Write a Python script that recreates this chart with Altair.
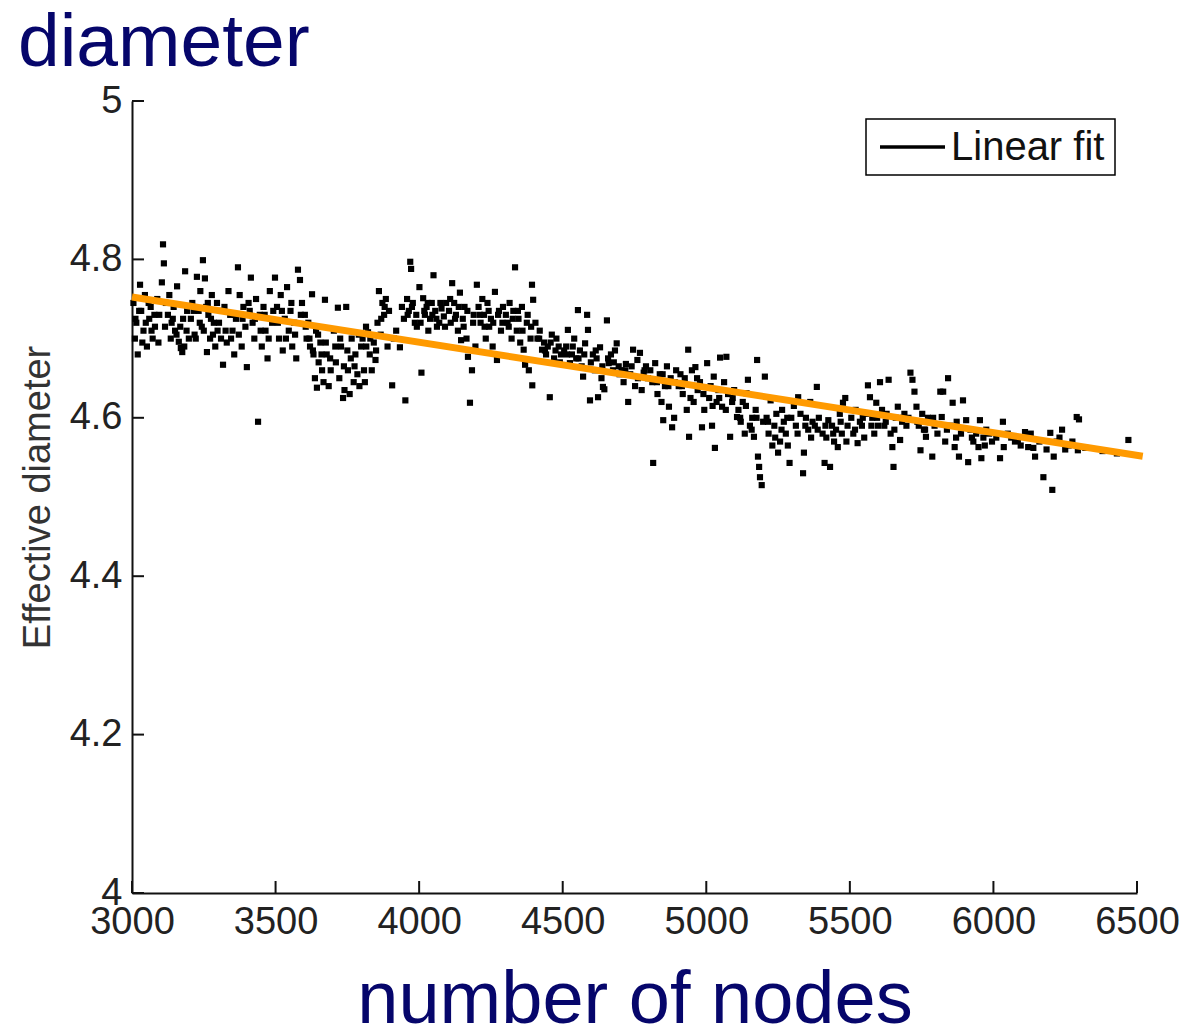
import altair as alt
import pandas as pd

# ---- data ----
nodes = [
    3005, 3010, 3015, 3020, 3028, 3032, 3040, 3045, 3052, 3060, 3065, 3072, 3080, 3088, 3095,
    3104, 3108, 3111, 3118, 3125, 3130, 3138, 3145, 3150, 3157, 3163, 3170, 3175, 3182, 3185, 3192, 3198,
    3205, 3210, 3218, 3226, 3232, 3238, 3243, 3247, 3254, 3258, 3261, 3266, 3272, 3278, 3285, 3290, 3296,
    3303, 3310, 3317, 3322, 3330, 3336, 3342, 3350, 3356, 3362, 3369, 3375, 3382, 3388, 3395,
    3400, 3406, 3414, 3420, 3426, 3432, 3439, 3445, 3452, 3458, 3465, 3472, 3480, 3488, 3498,
    3505, 3512, 3518, 3525, 3532, 3540, 3546, 3552, 3558, 3565, 3572, 3578, 3585, 3592,
    3602, 3608, 3614, 3620, 3627, 3632, 3637, 3641, 3644, 3650, 3656, 3662, 3667, 3672, 3678, 3685, 3692,
    3703, 3710, 3717, 3722, 3728, 3735, 3740, 3746, 3752, 3758, 3765, 3772, 3778, 3785, 3792, 3798,
    3803, 3808, 3811, 3816, 3822, 3828, 3835, 3842, 3848, 3855, 3860, 3866, 3872, 3878, 3884, 3890, 3895,
    3906, 3912, 3920, 3933, 3940, 3947, 3952, 3958, 3964, 3969, 3972, 3978, 3985, 3992,
    4001, 4008, 4014, 4020, 4026, 4032, 4038, 4044, 4050, 4056, 4062, 4070, 4078, 4086, 4094,
    4104, 4110, 4115, 4122, 4128, 4135, 4142, 4146, 4152, 4158, 4165, 4170, 4177, 4184, 4190, 4196, 4201,
    4207, 4214, 4220, 4226, 4232, 4238, 4244, 4250, 4256, 4264, 4271, 4278, 4285, 4292,
    4302, 4308, 4315, 4322, 4328, 4334, 4340, 4346, 4352, 4358, 4364, 4369, 4375, 4382, 4388, 4393, 4397, 4394,
    4405, 4412, 4420, 4428, 4435, 4442, 4448, 4455, 4462, 4470, 4478, 4486, 4494,
    4505, 4512, 4518, 4525, 4532, 4540, 4547, 4553, 4560, 4566, 4571, 4578, 4585, 4588, 4595,
    4605, 4612, 4618, 4623, 4630, 4635, 4640, 4645, 4654, 4660, 4668, 4675, 4682, 4688, 4695,
    4705, 4712, 4720, 4728, 4735, 4745, 4752, 4760, 4769, 4775, 4782, 4790, 4797,
    4805, 4812, 4815, 4822, 4830, 4838, 4844, 4850, 4856, 4863, 4870, 4876, 4881, 4888, 4895,
    4904, 4910, 4918, 4925, 4932, 4937, 4940, 4950, 4956, 4962, 4970, 4978, 4985, 4993, 5003,
    5010, 5015, 5020, 5026, 5030, 5036, 5042, 5048, 5055, 5062, 5070, 5076, 5083, 5090, 5097, 5107,
    5112, 5120, 5127, 5134, 5140, 5145, 5152, 5160, 5166, 5172, 5177, 5180, 5184, 5187, 5193, 5198,
    5204, 5210, 5217, 5224, 5230, 5237, 5244, 5250, 5257, 5264, 5270, 5277, 5284, 5290, 5296,
    5305, 5312, 5320, 5328, 5337, 5340, 5347, 5355, 5362, 5370, 5378, 5385, 5392,
    5405, 5412, 5418, 5425, 5431, 5438, 5445, 5452, 5458, 5465, 5472, 5476, 5484, 5492,
    5505, 5512, 5520, 5527, 5535, 5542, 5550, 5556, 5563, 5570, 5578, 5585, 5592, 5598,
    5605, 5612, 5620, 5628, 5635, 5642, 5648, 5652, 5660, 5667, 5675, 5682, 5690, 5697,
    5704, 5711, 5718, 5725, 5732, 5740, 5746, 5752, 5758, 5765, 5772, 5780, 5787, 5795,
    5805, 5815, 5820, 5825, 5832, 5842, 5850, 5858, 5865, 5872, 5880, 5887, 5894,
    5905, 5912, 5920, 5930, 5940, 5948, 5953, 5958, 5965, 5975, 5985, 5995,
    6010, 6023, 6033, 6036, 6050, 6062, 6075, 6085, 6095,
    6110, 6121, 6130, 6139, 6145, 6160, 6174, 6185, 6198, 6205,
    6210, 6220, 6230, 6239, 6250, 6262, 6275, 6290, 6294, 6298,
    6320, 6380, 6430, 6470,
]
diam = [
    4.745, 4.70, 4.72, 4.68, 4.768, 4.735, 4.71, 4.755, 4.69, 4.725, 4.74, 4.70, 4.715, 4.75, 4.73,
    4.771, 4.819, 4.795, 4.745, 4.73, 4.755, 4.72, 4.74, 4.71, 4.766, 4.696, 4.688, 4.683, 4.69, 4.785, 4.735, 4.70,
    4.725, 4.745, 4.705, 4.778, 4.735, 4.76, 4.715, 4.799, 4.776, 4.74, 4.683, 4.73, 4.70, 4.755, 4.72, 4.69, 4.745,
    4.72, 4.70, 4.667, 4.74, 4.695, 4.76, 4.73, 4.71, 4.68, 4.725, 4.79, 4.755, 4.69, 4.74, 4.715,
    4.664, 4.745, 4.777, 4.72, 4.70, 4.75, 4.595, 4.73, 4.69, 4.74, 4.71, 4.675, 4.76, 4.72, 4.777,
    4.74, 4.70, 4.755, 4.685, 4.725, 4.765, 4.71, 4.735, 4.69, 4.72, 4.675, 4.787, 4.774, 4.745,
    4.73, 4.70, 4.72, 4.69, 4.756, 4.68, 4.650, 4.71, 4.638, 4.67, 4.695, 4.66, 4.645, 4.749, 4.68, 4.64, 4.66,
    4.71, 4.67, 4.739, 4.65, 4.69, 4.625, 4.635, 4.74, 4.66, 4.63, 4.70, 4.645, 4.68, 4.655, 4.64, 4.69,
    4.70, 4.66, 4.645, 4.69, 4.708, 4.68, 4.66, 4.695, 4.673, 4.72, 4.76, 4.705, 4.745, 4.73, 4.75, 4.69, 4.735,
    4.641, 4.70, 4.71, 4.689, 4.74, 4.725, 4.622, 4.75, 4.735, 4.797, 4.788, 4.745, 4.72, 4.715,
    4.765, 4.657, 4.751, 4.73, 4.74, 4.71, 4.725, 4.745, 4.78, 4.735, 4.715, 4.72, 4.738, 4.728, 4.745,
    4.735, 4.72, 4.770, 4.745, 4.73, 4.71, 4.758, 4.698, 4.725, 4.74, 4.70, 4.677, 4.619, 4.66, 4.73, 4.69, 4.768,
    4.74, 4.72, 4.75, 4.73, 4.70, 4.745, 4.715, 4.725, 4.69, 4.759, 4.673, 4.735, 4.71, 4.74,
    4.73, 4.72, 4.745, 4.70, 4.735, 4.79, 4.71, 4.725, 4.695, 4.74, 4.686, 4.667, 4.72, 4.66, 4.70, 4.768, 4.749, 4.641,
    4.72, 4.70, 4.71, 4.686, 4.695, 4.68, 4.69, 4.626, 4.705, 4.675, 4.70, 4.69, 4.68,
    4.685, 4.69, 4.711, 4.669, 4.68, 4.70, 4.675, 4.736, 4.685, 4.665, 4.652, 4.694, 4.73, 4.711, 4.622,
    4.68, 4.66, 4.675, 4.626, 4.689, 4.65, 4.639, 4.636, 4.723, 4.669, 4.68, 4.66, 4.685, 4.694, 4.665,
    4.66, 4.645, 4.668, 4.62, 4.655, 4.686, 4.64, 4.673, 4.682, 4.635, 4.657, 4.665, 4.65,
    4.66, 4.645, 4.543, 4.669, 4.63, 4.655, 4.62, 4.597, 4.64, 4.665, 4.614, 4.65, 4.588, 4.60, 4.66,
    4.64, 4.655, 4.63, 4.65, 4.61, 4.686, 4.576, 4.66, 4.62, 4.664, 4.635, 4.645, 4.588, 4.61, 4.669,
    4.625, 4.64, 4.59, 4.652, 4.562, 4.62, 4.635, 4.676, 4.614, 4.645, 4.677, 4.63, 4.576, 4.62, 4.635, 4.601,
    4.61, 4.595, 4.62, 4.58, 4.631, 4.648, 4.59, 4.60, 4.576, 4.61, 4.673, 4.551, 4.538, 4.525, 4.515, 4.595,
    4.652, 4.60, 4.58, 4.622, 4.565, 4.59, 4.605, 4.556, 4.57, 4.61, 4.595, 4.58, 4.565, 4.543, 4.60,
    4.615, 4.59, 4.626, 4.605, 4.53, 4.556, 4.60, 4.585, 4.62, 4.595, 4.59, 4.639, 4.60,
    4.58, 4.543, 4.575, 4.597, 4.538, 4.59, 4.57, 4.585, 4.563, 4.605, 4.58, 4.619, 4.625, 4.59,
    4.60, 4.58, 4.61, 4.568, 4.595, 4.59, 4.575, 4.605, 4.641, 4.626, 4.60, 4.58, 4.619, 4.59,
    4.645, 4.61, 4.59, 4.605, 4.648, 4.58, 4.563, 4.538, 4.60, 4.614, 4.572, 4.595, 4.605, 4.59,
    4.60, 4.657, 4.648, 4.633, 4.614, 4.59, 4.559, 4.605, 4.585, 4.576, 4.60, 4.595, 4.551, 4.59,
    4.58, 4.633, 4.601, 4.633, 4.57, 4.65, 4.59, 4.619, 4.563, 4.595, 4.551, 4.58, 4.622,
    4.597, 4.544, 4.585, 4.57, 4.58, 4.563, 4.597, 4.549, 4.575, 4.585, 4.58, 4.57,
    4.575, 4.549, 4.595, 4.563, 4.58, 4.575, 4.57, 4.572, 4.565,
    4.582, 4.563, 4.58, 4.562, 4.551, 4.57, 4.525, 4.56, 4.581, 4.509,
    4.551, 4.57, 4.575, 4.585, 4.56, 4.565, 4.57, 4.601, 4.559, 4.598,
    4.562, 4.558, 4.555, 4.572,
]

# extra points in the densest parts of the cloud
nodes_dense = [
    3012, 3025, 3036, 3048, 3058, 3068, 3078, 3092, 3115, 3135,
    3142, 3155, 3168, 3178, 3190, 3215, 3222, 3236, 3250, 3264,
    3275, 3282, 3298, 3315, 3326, 3345, 3358, 3372, 3385, 3410,
    3428, 3448, 3462, 3476, 3492, 3508, 3522, 3536, 3555, 3568,
    3588, 3605, 3618, 3630, 3648, 3660, 3675, 3690, 3708, 3725,
    3738, 3750, 3762, 3775, 3790, 3815, 3830, 3850, 3868, 3880,
    3960, 3975, 3990, 4005, 4018, 4030, 4046, 4060, 4074, 4090,
    4108, 4125, 4138, 4155, 4168, 4188, 4212, 4228, 4242, 4258,
    4275, 4290, 4312, 4326, 4344, 4360, 4378, 4390, 4418, 4438,
    4458, 4475, 4490, 4515, 4535, 4555, 4575, 4598, 4615, 4638,
    4658, 4678, 4698, 4718, 4740, 4762, 4785, 4828, 4848, 4868,
    4890, 4915, 4945, 4968, 4990, 5022, 5045, 5068, 5092, 5118,
    5138, 5158, 5175, 5215, 5240, 5262, 5282, 5318, 5345, 5365,
    5388, 5415, 5442, 5468, 5488, 5518, 5545, 5575, 5595, 5625,
    5655, 5685, 5735, 5762, 5790, 5838, 5870, 5925, 5970,
]
diam_dense = [
    4.725, 4.735, 4.695, 4.72, 4.745, 4.71, 4.73, 4.695, 4.715, 4.70,
    4.725, 4.705, 4.715, 4.725, 4.71, 4.735, 4.70, 4.72, 4.71, 4.745,
    4.725, 4.705, 4.71, 4.735, 4.71, 4.70, 4.73, 4.705, 4.725, 4.735,
    4.725, 4.71, 4.73, 4.70, 4.735, 4.72, 4.735, 4.70, 4.745, 4.705,
    4.73, 4.715, 4.70, 4.685, 4.705, 4.68, 4.695, 4.675, 4.69, 4.70,
    4.665, 4.685, 4.675, 4.665, 4.705, 4.715, 4.70, 4.685, 4.725, 4.74,
    4.73, 4.74, 4.73, 4.72, 4.735, 4.745, 4.73, 4.725, 4.745, 4.715,
    4.75, 4.725, 4.74, 4.715, 4.735, 4.72, 4.73, 4.715, 4.735, 4.72,
    4.73, 4.72, 4.715, 4.725, 4.735, 4.71, 4.73, 4.715, 4.70, 4.685,
    4.695, 4.685, 4.67, 4.68, 4.69, 4.675, 4.68, 4.67, 4.685, 4.665,
    4.675, 4.67, 4.655, 4.66, 4.665, 4.65, 4.66, 4.645, 4.655, 4.64,
    4.645, 4.64, 4.625, 4.65, 4.63, 4.615, 4.625, 4.61, 4.625, 4.60,
    4.615, 4.585, 4.60, 4.595, 4.575, 4.585, 4.60, 4.58, 4.59, 4.575,
    4.585, 4.59, 4.58, 4.595, 4.57, 4.585, 4.60, 4.59, 4.60, 4.595,
    4.585, 4.60, 4.595, 4.585, 4.60, 4.585, 4.575, 4.575, 4.565,
]

fit_nodes = [3000, 6520]
fit_diam = [4.7525, 4.5515]

x_ticks = [3000, 3500, 4000, 4500, 5000, 5500, 6000, 6500]
y_ticks = [4.0, 4.2, 4.4, 4.6, 4.8, 5.0]

chart_title = "diameter"
x_title = "number of nodes"
y_title = "Effective diameter"
legend_label = "Linear fit"

# ---- styling ----
NAVY = "#06066b"
ORANGE = "#FF9A00"
FONT = "Liberation Sans"
W, H = 1005, 792

all_nodes = nodes + nodes_dense
all_diam = diam + diam_dense
n = min(len(all_nodes), len(all_diam))
pts = pd.DataFrame({"nodes": all_nodes[:n], "diam": all_diam[:n]})
fit = pd.DataFrame({"nodes": fit_nodes, "diam": fit_diam})

xscale = alt.Scale(domain=[3000, 6500], nice=False, zero=False)
yscale = alt.Scale(domain=[4.0, 5.0], nice=False, zero=False)

xaxis = alt.Axis(
    values=x_ticks, format="d", title=x_title, grid=False, ticks=False,
    labelFontSize=38, labelColor="#222222", labelFont=FONT, labelPadding=10,
    titleFontSize=74, titleColor=NAVY, titleFont=FONT, titleFontWeight="normal",
    titlePadding=23, domainColor="#111111", domainWidth=2, labelFlush=False,
)
yaxis = alt.Axis(
    values=y_ticks, format="~g", title=y_title, grid=False, ticks=False,
    labelFontSize=38, labelColor="#222222", labelFont=FONT, labelPadding=10,
    titleFontSize=38, titleColor="#333333", titleFont=FONT, titleFontWeight="normal",
    titlePadding=12, domainColor="#111111", domainWidth=2, labelFlush=False,
)

points = alt.Chart(pts).mark_square(size=38, color="black", opacity=1).encode(
    x=alt.X("nodes:Q", scale=xscale, axis=xaxis),
    y=alt.Y("diam:Q", scale=yscale, axis=yaxis),
)

fit_line = alt.Chart(fit).mark_line(color=ORANGE, strokeWidth=7, clip=False).encode(
    x=alt.X("nodes:Q", scale=xscale),
    y=alt.Y("diam:Q", scale=yscale),
)

ytk = alt.Chart(pd.DataFrame({"v": y_ticks})).mark_rule(color="#111111", strokeWidth=2).encode(
    y=alt.Y("v:Q", scale=yscale), x=alt.value(0), x2=alt.value(12)
)
xtk = alt.Chart(pd.DataFrame({"v": x_ticks})).mark_rule(color="#111111", strokeWidth=2).encode(
    x=alt.X("v:Q", scale=xscale), y=alt.value(H), y2=alt.value(H - 12)
)

leg_df = pd.DataFrame({"label": [legend_label]})
leg_box = alt.Chart(leg_df).mark_rect(fill="white", stroke="black", strokeWidth=1.5).encode(
    x=alt.value(734), x2=alt.value(983), y=alt.value(18), y2=alt.value(74)
)
leg_line = alt.Chart(leg_df).mark_rule(color="black", strokeWidth=3.5).encode(
    x=alt.value(748), x2=alt.value(813), y=alt.value(46)
)
leg_text = alt.Chart(leg_df).mark_text(
    align="left", baseline="middle", fontSize=40, font=FONT, color="#111111"
).encode(x=alt.value(819), y=alt.value(47), text="label:N")

chart = alt.layer(points, fit_line, ytk, xtk, leg_box, leg_line, leg_text).properties(
    width=W, height=H,
    title=alt.TitleParams(
        chart_title, anchor="start", frame="group", fontSize=75, color=NAVY,
        font=FONT, fontWeight="normal", dx=-114, offset=0,
    ),
    autosize=alt.AutoSizeParams(type="none"),
    padding={"left": 132, "top": 101, "right": 51, "bottom": 142},
    background="white",
).configure_view(strokeWidth=0, stroke="transparent")

chart.save("out.html", embed_options={"renderer": "svg", "actions": False})
